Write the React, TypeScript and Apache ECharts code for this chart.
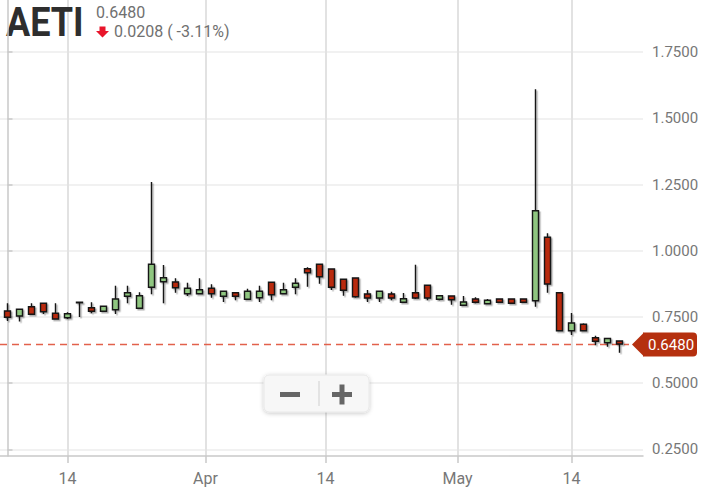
import React, { useEffect, useRef } from "react";
import * as echarts from "echarts";

const dates = [
  "2019-03-07", "2019-03-08", "2019-03-11", "2019-03-12", "2019-03-13", "2019-03-14", "2019-03-15",
  "2019-03-18", "2019-03-19", "2019-03-20", "2019-03-21", "2019-03-22", "2019-03-25", "2019-03-26",
  "2019-03-27", "2019-03-28", "2019-03-29", "2019-04-01", "2019-04-02", "2019-04-03", "2019-04-04",
  "2019-04-05", "2019-04-08", "2019-04-09", "2019-04-10", "2019-04-11", "2019-04-12", "2019-04-15",
  "2019-04-16", "2019-04-17", "2019-04-18", "2019-04-22", "2019-04-23", "2019-04-24", "2019-04-25",
  "2019-04-26", "2019-04-29", "2019-04-30", "2019-05-01", "2019-05-02", "2019-05-03", "2019-05-06",
  "2019-05-07", "2019-05-08", "2019-05-09", "2019-05-10", "2019-05-13", "2019-05-14", "2019-05-15",
  "2019-05-16", "2019-05-17", "2019-05-20",
];

const openP = [
  0.7727, 0.7538, 0.7889, 0.8017, 0.764, 0.7474, 0.8032,
  0.7851, 0.7715, 0.7776, 0.8282, 0.7829, 0.8622, 0.8833,
  0.8822, 0.838, 0.838, 0.8584, 0.8282, 0.8418, 0.8168,
  0.8229, 0.881, 0.838, 0.8622, 0.9324, 0.949, 0.9313,
  0.8924, 0.8973, 0.8369, 0.8218, 0.8369, 0.8055, 0.8418,
  0.8697, 0.8168, 0.8293, 0.7942, 0.818, 0.8002, 0.818,
  0.818, 0.818, 0.8116, 1.051, 0.8418, 0.6983, 0.7224,
  0.6718, 0.653, 0.6594,
];
const closeP = [
  0.7489, 0.7791, 0.7602, 0.77, 0.7424, 0.7625, 0.8055,
  0.7715, 0.7904, 0.818, 0.8418, 0.8304, 0.949, 0.8984,
  0.8606, 0.8584, 0.8531, 0.838, 0.8471, 0.8282, 0.8471,
  0.8471, 0.8342, 0.8531, 0.8773, 0.9173, 0.9022, 0.8622,
  0.8508, 0.8267, 0.8218, 0.8471, 0.8218, 0.8191, 0.8218,
  0.8218, 0.8304, 0.8153, 0.8066, 0.8055, 0.8131, 0.8055,
  0.8017, 0.8055, 1.1514, 0.8746, 0.6983, 0.7273, 0.6983,
  0.6582, 0.6688, 0.648,
];
const lowP = [
  0.7349, 0.733, 0.76, 0.7613, 0.7413, 0.7424, 0.75,
  0.764, 0.7705, 0.7613, 0.8017, 0.7802, 0.8357, 0.8017,
  0.8418, 0.8293, 0.838, 0.8229, 0.8066, 0.8131, 0.8168,
  0.8066, 0.8131, 0.8357, 0.8357, 0.8644, 0.8758, 0.852,
  0.8304, 0.8229, 0.8066, 0.8066, 0.8131, 0.8055, 0.818,
  0.8131, 0.8131, 0.7964, 0.7942, 0.8017, 0.8002, 0.8035,
  0.8017, 0.8035, 0.7889, 0.8418, 0.6983, 0.682, 0.6983,
  0.6431, 0.6378, 0.6152,
];
const highP = [
  0.8017, 0.78, 0.8017, 0.804, 0.8017, 0.7677, 0.8066,
  0.8055, 0.7915, 0.8682, 0.8682, 0.8433, 1.2598, 0.9464,
  0.8961, 0.8795, 0.8961, 0.8735, 0.8471, 0.8418, 0.8569,
  0.8682, 0.881, 0.8795, 0.8961, 0.9377, 0.951, 0.9313,
  0.8924, 0.8973, 0.852, 0.8471, 0.8455, 0.8406, 0.9475,
  0.8697, 0.8304, 0.8293, 0.8293, 0.8244, 0.818, 0.818,
  0.818, 0.819, 1.6099, 1.0661, 0.8418, 0.7651, 0.7262,
  0.6794, 0.6718, 0.6594,
];

const yTickValues = [0.25, 0.5, 0.75, 1.0, 1.25, 1.5, 1.75];
const xTickDates = ["2019-03-14", "2019-04-01", "2019-04-14", "2019-05-01", "2019-05-14"];
const xTickLabels = ["14", "Apr", "14", "May", "14"];

const symbol = "AETI";
const lastPrice = 0.648;
const changeAbs = "0.0208";
const changePct = "( -3.11%)";

const UP_FILL = "#8fc680";
const DOWN_FILL = "#b8290c";
const PRICE_LINE = "#e2614b";

export default function App() {
  const ref = useRef<HTMLDivElement>(null);

  useEffect(() => {
    if (!ref.current) return;
    const chart = echarts.init(ref.current, undefined, { renderer: "svg" });

    const isMonth = (l: string) => /[A-Za-z]/.test(l);
    const xTickPos = xTickDates.map((d, i) => {
      const idx = dates.findIndex((x) => x >= d);
      if (dates[idx] === d && !isMonth(xTickLabels[i])) return idx;
      return idx - 0.5;
    });

    const data = dates.map((_, i) => [i, openP[i], closeP[i], lowP[i], highP[i]]);

    const xMin = -0.625;
    const xMax = 52.96;
    const font = "Roboto";

    chart.setOption({
      animation: false,
      backgroundColor: "#ffffff",
      grid: { left: 0, right: 61, top: 0, bottom: 36, containLabel: false },
      xAxis: {
        type: "value",
        min: xMin,
        max: xMax,
        axisLine: { show: true, lineStyle: { color: "#c8c8c8", width: 1.5 } },
        axisTick: { show: true, length: 7, customValues: xTickPos, lineStyle: { color: "#c8c8c8", width: 1.5 } },
        axisLabel: {
          customValues: xTickPos,
          margin: 14,
          color: "#777",
          fontSize: 16,
          fontFamily: font,
          formatter: (v: number) => {
            const i = xTickPos.findIndex((p) => Math.abs(p - v) < 1e-6);
            return i >= 0 ? xTickLabels[i] : "";
          },
        },
        splitLine: { show: true, lineStyle: { color: "#e2e2e2", width: 2 } },
      },
      yAxis: {
        type: "value",
        position: "right",
        min: 0.2251,
        max: 1.9471,
        axisLine: { show: true, lineStyle: { color: "#c8c8c8", width: 1.5 } },
        axisTick: { show: true, length: 5, customValues: yTickValues, lineStyle: { color: "#c8c8c8", width: 1.5 } },
        axisLabel: {
          customValues: yTickValues,
          margin: 9,
          color: "#777",
          fontSize: 15,
          fontFamily: font,
          formatter: (v: number) => v.toFixed(4),
        },
        splitLine: { show: true, lineStyle: { color: "#ececec", width: 1.5 } },
      },
      series: [
        {
          type: "candlestick",
          data,
          encode: { x: 0, y: [1, 2, 3, 4] },
          barWidth: 7,
          clip: true,
          itemStyle: {
            color: UP_FILL,
            color0: DOWN_FILL,
            borderColor: "#151515",
            borderColor0: "#151515",
            borderWidth: 1.4,
            shadowColor: "rgba(0,0,0,0.3)",
            shadowBlur: 1,
            shadowOffsetX: 1.5,
            shadowOffsetY: 1.5,
          },
        },
      ],
    });

    const py = Math.round(chart.convertToPixel({ yAxisIndex: 0 }, lastPrice) as number) + 0.5;
    const x0 = chart.convertToPixel({ xAxisIndex: 0 }, xMin) as number;
    const ax = chart.convertToPixel({ xAxisIndex: 0 }, xMax) as number;
    const tagColor = "#b5300f";

    chart.setOption({
      graphic: [
        {
          type: "text",
          x: 6,
          y: 22,
          scaleX: 0.9,
          style: {
            text: symbol,
            fill: "#2e2e2e",
            fontSize: 40,
            fontWeight: "bold",
            fontFamily: font,
            textVerticalAlign: "middle",
            verticalAlign: "middle",
          },
        },
        {
          type: "text",
          x: 96,
          y: 12.5,
          style: {
            text: lastPrice.toFixed(4),
            fill: "#707070",
            fontSize: 16,
            fontFamily: font,
            textVerticalAlign: "middle",
            verticalAlign: "middle",
          },
        },
        {
          type: "polygon",
          shape: {
            points: [
              [99.5, 26.5], [105.5, 26.5], [105.5, 31], [109, 31], [102.5, 37.5], [96, 31], [99.5, 31],
            ],
          },
          style: { fill: "#e8152b" },
        },
        {
          type: "text",
          x: 114,
          y: 31.5,
          style: {
            text: changeAbs + " " + changePct,
            fill: "#707070",
            fontSize: 16,
            fontFamily: font,
            textVerticalAlign: "middle",
            verticalAlign: "middle",
          },
        },
        // last price line
        {
          type: "line",
          silent: true,
          shape: { x1: x0, y1: py, x2: ax - 14, y2: py },
          style: { stroke: PRICE_LINE, lineWidth: 1.3, lineDash: [7, 5] },
        },
        // price tag
        {
          type: "polygon",
          shape: { points: [[ax - 11, py], [ax + 1, py - 12], [ax + 1, py + 12]] },
          style: { fill: tagColor },
        },
        {
          type: "rect",
          shape: { x: ax, y: py - 12, width: 54, height: 24, r: [0, 4, 4, 0] },
          style: { fill: tagColor },
        },
        {
          type: "text",
          x: ax + 28,
          y: py,
          style: {
            text: lastPrice.toFixed(4),
            fill: "#ffffff",
            fontSize: 15,
            fontFamily: font,
            textAlign: "center",
            align: "center",
            textVerticalAlign: "middle",
            verticalAlign: "middle",
          },
        },
        // zoom buttons
        {
          type: "rect",
          shape: { x: 264, y: 375, width: 105, height: 37, r: 5 },
          style: {
            fill: "#f7f7f7",
            stroke: "#e8e8e8",
            lineWidth: 1,
            shadowColor: "rgba(0,0,0,0.22)",
            shadowBlur: 4,
            shadowOffsetY: 1,
          },
        },
        {
          type: "line",
          shape: { x1: 319, y1: 381, x2: 319, y2: 406 },
          style: { stroke: "#cfcfcf", lineWidth: 1 },
        },
        { type: "rect", shape: { x: 280, y: 392, width: 20, height: 5 }, style: { fill: "#666" } },
        { type: "rect", shape: { x: 332, y: 392, width: 20, height: 5 }, style: { fill: "#666" } },
        { type: "rect", shape: { x: 339.5, y: 384.5, width: 5, height: 20 }, style: { fill: "#666" } },
      ],
    });

    return () => chart.dispose();
  }, []);

  return (
    <div
      ref={ref}
      style={{ position: "absolute", left: 0, top: 0, width: 704, height: 492 }}
    />
  );
}
